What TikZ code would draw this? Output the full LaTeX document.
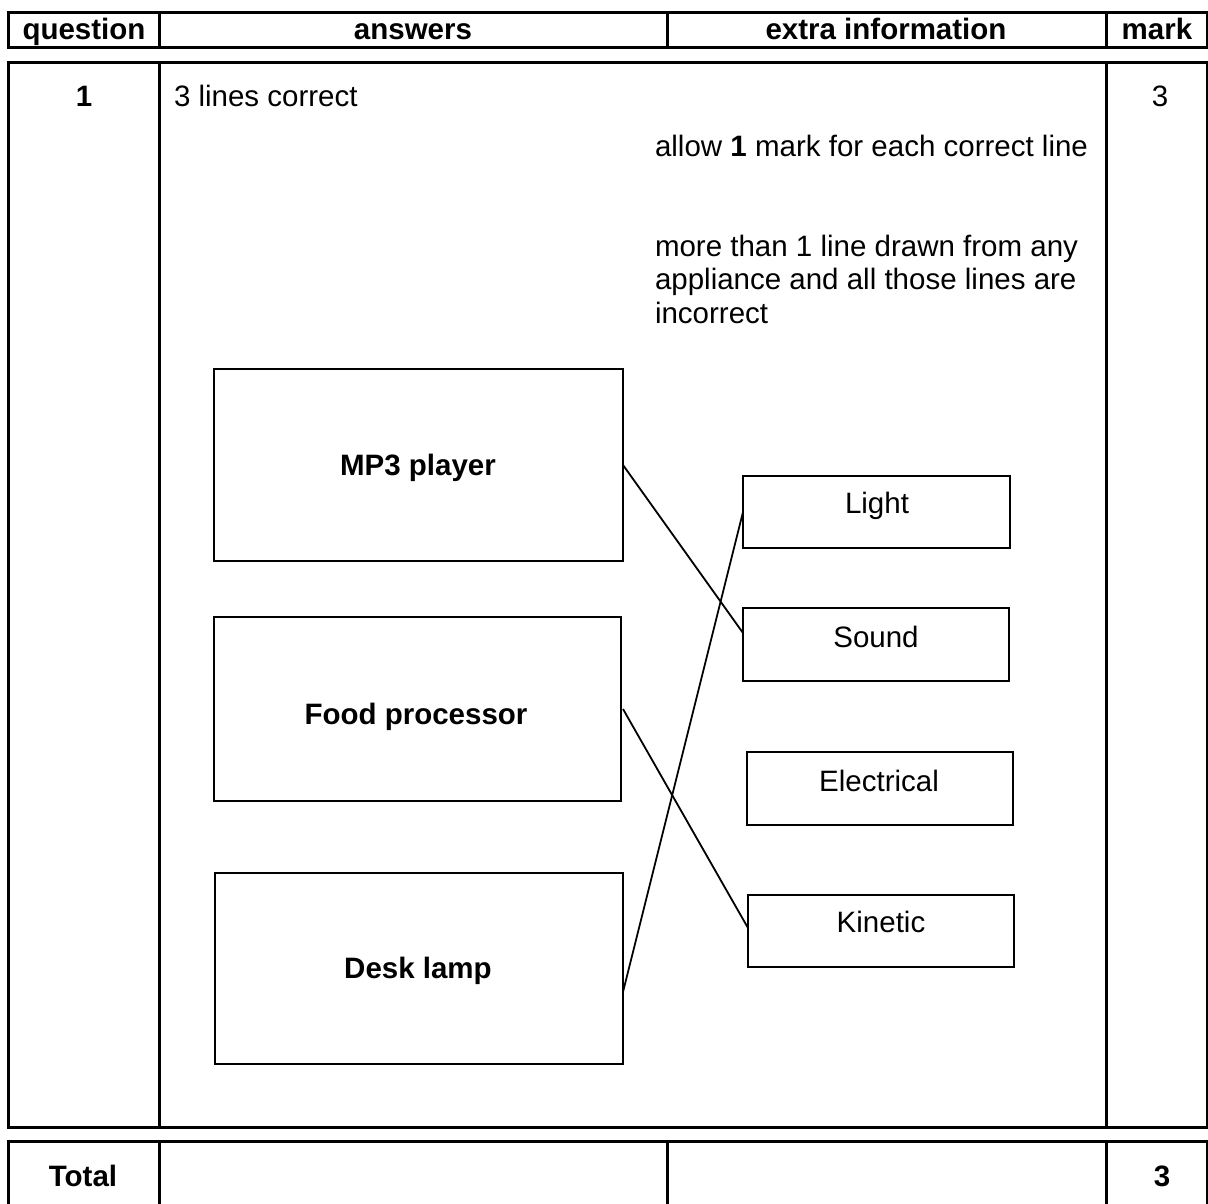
\documentclass[tikz,border=0pt]{standalone}
\usepackage{fontspec}
\setmainfont{Liberation Sans}
\begin{document}
\begin{tikzpicture}[x=1pt,y=-1pt,
  tbl/.style={line width=3pt},
  box/.style={draw,line width=2pt,inner sep=0pt,outer sep=0pt},
  conn/.style={line width=1.8pt},
  txt/.style={inner sep=0pt,outer sep=0pt,anchor=base,font=\fontsize{29.5}{33}\selectfont},
  txtl/.style={txt,anchor=base west},
  txtb/.style={txt,font=\fontsize{29.5}{33}\selectfont\bfseries}]
\path[use as bounding box,clip] (0,0) rectangle (1208,1204);
\fill[white] (0,0) rectangle (1208,1204);
% header row
\draw[tbl] (8,13) rectangle (1207,48);
\draw[tbl] (159,13) -- (159,48) (667,13) -- (667,48) (1106,13) -- (1106,48);
\node[txtb] (hq) at (84,40) {question};
\node[txtb] (ha) at (413,40) {answers};
\node[txtb] (he) at (886,40) {extra information};
\node[txtb] (hm) at (1157,40) {mark};
% body row
\draw[tbl] (8,63) rectangle (1207,1127);
\draw[tbl] (159,63) -- (159,1127) (1106,63) -- (1106,1127);
\node[txtb] (q1) at (84,107) {1};
\node[txtl] (ans) at (174,107) {3 lines correct};
\node[txt] (mk) at (1160,107) {3};
\node[txtl] (ex1) at (655,157) {allow \textbf{1} mark for each correct line};
\node[txtl] (ex2) at (655,256) {more than 1 line drawn from any};
\node[txtl] (ex3) at (655,289.5) {appliance and all those lines are};
\node[txtl] (ex4) at (655,323) {incorrect};
% boxes
\node[box,minimum width=409pt,minimum height=192pt] (mp3) at (418.5,465) {};
\node[box,minimum width=407pt,minimum height=184pt] (food) at (417.5,709) {};
\node[box,minimum width=408pt,minimum height=191pt] (lamp) at (419,968.5) {};
\node[box,minimum width=267pt,minimum height=72pt] (light) at (876.5,512) {};
\node[box,minimum width=266pt,minimum height=73pt] (sound) at (876,644.5) {};
\node[box,minimum width=266pt,minimum height=73pt] (elec) at (880,788.5) {};
\node[box,minimum width=266pt,minimum height=72pt] (kin) at (881,931) {};
\node[txtb] (mp3t) at (418,475) {MP3 player};
\node[txtb] (foodt) at (416,724) {Food processor};
\node[txtb] (lampt) at (418,978) {Desk lamp};
\node[txt] (lightt) at (877,513) {Light};
\node[txt] (soundt) at (876,647) {Sound};
\node[txt] (elect) at (879,791) {Electrical};
\node[txt] (kint) at (881,932) {Kinetic};
% connectors
\draw[conn] (mp3.east) -- ([yshift=11.5pt]sound.west);
\draw[conn] ([xshift=2pt]food.east) -- ([yshift=3pt]kin.west);
\draw[conn] ([yshift=-23.5pt]lamp.east) -- (light.west);
% total row
\draw[tbl] (8,1215) -- (8,1141) -- (1207,1141) -- (1207,1215);
\draw[tbl] (159,1141) -- (159,1215) (667,1141) -- (667,1215) (1106,1141) -- (1106,1215);
\node[txtb] (tot) at (83,1186) {Total};
\node[txtb] (totm) at (1162,1186) {3};
\end{tikzpicture}
\end{document}
